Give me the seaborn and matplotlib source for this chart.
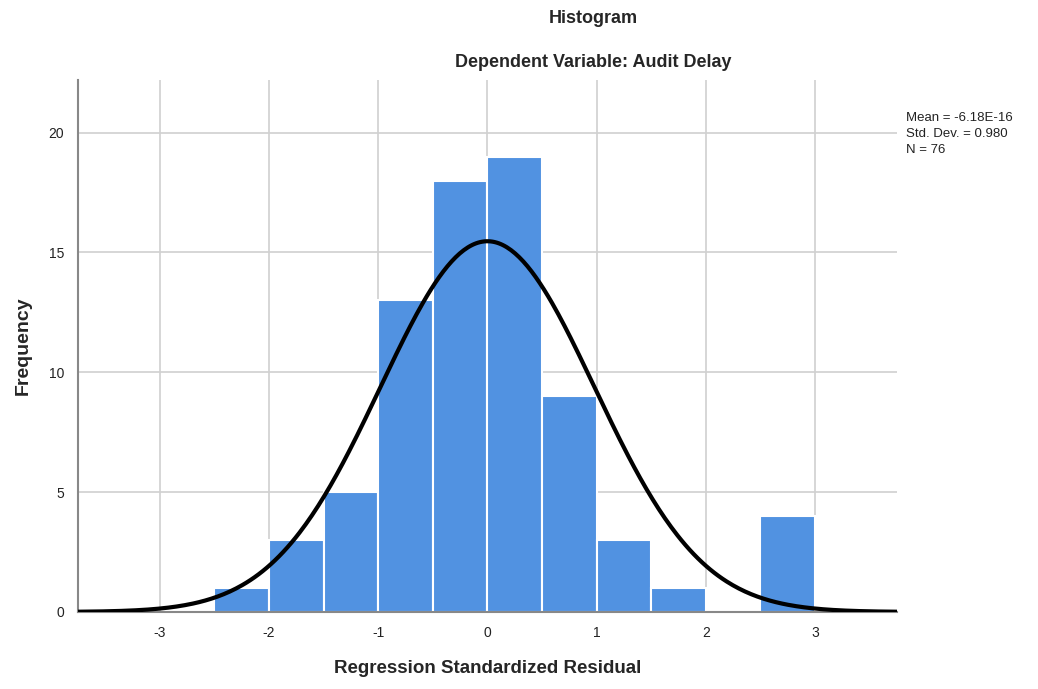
import numpy as np
import pandas as pd
import matplotlib
matplotlib.use("Agg")
import matplotlib.pyplot as plt
import seaborn as sns

# Data
bin_edges = [-2.5, -2.0, -1.5, -1.0, -0.5, 0.0, 0.5, 1.0, 1.5, 2.0, 2.5, 3.0]
counts = [1, 3, 5, 13, 18, 19, 9, 3, 1, 0, 4]
mean_val = -6.18e-16
std_val = 0.980
n_val = 76
x_ticks = [-3, -2, -1, 0, 1, 2, 3]
y_ticks = [0, 5, 10, 15, 20]

sns.set_theme(style="white")
plt.rcParams['font.family'] = ['Liberation Sans', 'DejaVu Sans']

fig = plt.figure(figsize=(10.38, 6.89), dpi=100)
ax = fig.add_axes([0.0751, 0.1118, 0.7890, 0.7722])

centers = [(bin_edges[i] + bin_edges[i + 1]) / 2 for i in range(len(counts))]
df = pd.DataFrame({"x": centers, "w": counts})
sns.histplot(data=df, x="x", weights="w", bins=bin_edges, ax=ax,
             color="#5192E1", alpha=1.0, edgecolor="white", linewidth=1.5, zorder=2)

binw = bin_edges[1] - bin_edges[0]
xs = np.linspace(-3.75, 3.75, 400)
ys = n_val * binw * np.exp(-0.5 * ((xs - mean_val) / std_val) ** 2) / (std_val * np.sqrt(2 * np.pi))
sns.lineplot(x=xs, y=ys, ax=ax, color="black", linewidth=3, zorder=3)

ax.set_xlim(-3.75, 3.75)
ax.set_ylim(0, 22.2)
ax.set_xticks(x_ticks)
ax.set_yticks(y_ticks)
ax.set_xticklabels([str(t) for t in x_ticks], fontsize=10, color="#222222")
ax.set_yticklabels([str(t) for t in y_ticks], fontsize=10, color="#222222")
ax.tick_params(length=0, pad=10)
ax.grid(True, color="#d0d0d0", linewidth=1.2, zorder=0)
ax.set_axisbelow(True)
for s in ["top", "right"]:
    ax.spines[s].set_visible(False)
ax.spines["left"].set_color("#888888")
ax.spines["left"].set_linewidth(1.5)
ax.spines["bottom"].set_color("#888888")
ax.spines["bottom"].set_linewidth(1.5)

ax.set_xlabel("Regression Standardized Residual", fontsize=13.5, fontweight="bold")
ax.set_ylabel("Frequency", fontsize=14, fontweight="bold")
ax.xaxis.set_label_coords(0.5, -0.09)
ax.yaxis.set_label_coords(-0.057, 0.50)

fig.text(0.572, 0.973, "Histogram", ha="center", va="center", fontsize=13, fontweight="bold")
fig.text(0.572, 0.910, "Dependent Variable: Audit Delay", ha="center", va="center", fontsize=13, fontweight="bold")

fig.text(0.873, 0.837, f"Mean = -6.18E-16\nStd. Dev. = {std_val:.3f}\nN = {n_val}",
         ha="left", va="top", fontsize=9.5, linespacing=1.4, color="#222222")

fig.savefig("out.png", dpi=100)
